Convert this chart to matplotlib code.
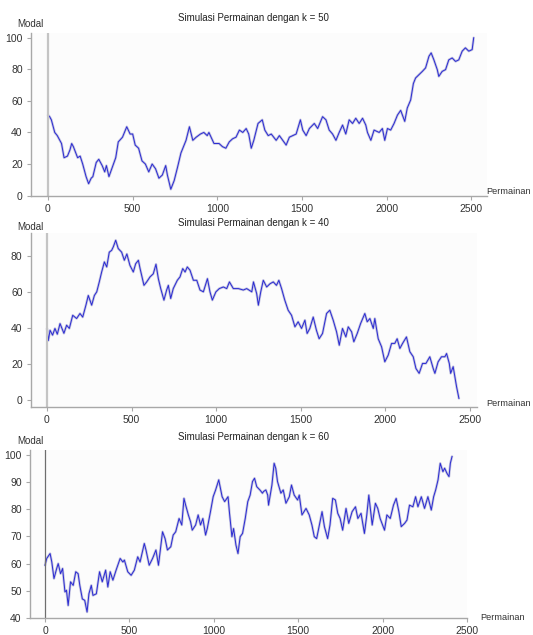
import matplotlib
matplotlib.use("Agg")
import matplotlib.pyplot as plt

plt.rcParams['font.family'] = ['Liberation Sans', 'DejaVu Sans']

# --- data (game number, capital) ---
x_k50 = [0, 10, 20, 40, 55, 80, 95, 115, 130, 140, 150, 175, 190, 205, 225, 240,
         255, 265, 285, 300, 320, 335, 345, 360, 380, 400, 415, 440, 465, 485, 500,
         515, 535, 555, 575, 595, 615, 635, 655, 675, 695, 705, 725, 745, 765, 785,
         815, 835, 855, 875, 900, 920, 940, 950, 980, 1010, 1030, 1050, 1070, 1090,
         1110, 1130, 1150, 1170, 1185, 1200, 1215, 1240, 1265, 1280, 1300, 1318,
         1347, 1366, 1386, 1406, 1425, 1445, 1465, 1490, 1504, 1524, 1543, 1572,
         1592, 1621, 1641, 1660, 1680, 1700, 1719, 1739, 1758, 1778, 1798, 1817,
         1837, 1857, 1876, 1886, 1906, 1925, 1955, 1974, 1988, 2004, 2023, 2043,
         2063, 2082, 2106, 2121, 2141, 2157, 2170, 2190, 2210, 2229, 2249, 2262,
         2278, 2298, 2307, 2327, 2347, 2366, 2386, 2406, 2425, 2445, 2464, 2484,
         2504, 2513]
y_k50 = [51, 50, 48, 40, 38, 33, 24, 25, 29, 33, 31, 24, 25, 20, 12, 7.5,
         11, 12, 21, 23, 19, 15, 19, 12, 18, 24, 34, 37, 43.6, 39, 39,
         32, 30, 22, 20, 15, 20, 17, 11, 13, 19, 13, 4, 9.5, 18, 27,
         35, 43.6, 35, 37, 39, 40, 38, 40, 33, 33, 31, 30, 34, 36,
         37, 41.5, 40, 42.5, 39, 30, 35, 45.7, 48, 41.5, 38, 39,
         35, 38, 35, 32, 37, 38, 39, 48, 41.5, 38, 42.5, 45.7,
         42.5, 50, 48, 41.5, 39, 35, 40, 44.7, 39, 48, 45.7, 49,
         45.7, 49, 44.7, 40, 35, 41.5, 40, 42.5, 35, 42.5, 41.5, 45.7,
         51, 54, 47, 55.5, 60.6, 71, 74.5, 76.6, 78.7, 80.9, 88.3, 90.4,
         86, 79.8, 75.5, 78.7, 79.8, 86, 87.2, 85, 86, 91.5, 93.6, 91.5,
         92.5, 100]

x_k40 = [0, 8, 18, 33, 47, 61, 77, 100, 116, 132, 152, 175, 195, 211, 230, 244,
         264, 280, 294, 309, 323, 339, 353, 368, 382, 392, 406, 421, 441, 457,
         472, 490, 510, 524, 540, 550, 573, 589, 609, 628, 644, 658, 672, 691,
         707, 717, 731, 746, 770, 786, 802, 816, 829, 845, 865, 885, 904, 924,
         948, 963, 977, 998, 1018, 1042, 1062, 1078, 1101, 1131, 1160, 1180,
         1210, 1220, 1239, 1249, 1263, 1278, 1298, 1318, 1337, 1356, 1370, 1386,
         1405, 1425, 1445, 1465, 1484, 1504, 1524, 1537, 1553, 1573, 1592, 1608,
         1628, 1652, 1671, 1691, 1711, 1727, 1746, 1766, 1780, 1800, 1813, 1833,
         1853, 1878, 1892, 1908, 1928, 1937, 1957, 1977, 1996, 2016, 2036, 2055,
         2069, 2085, 2101, 2124, 2144, 2164, 2180, 2199, 2219, 2239, 2262, 2282,
         2292, 2311, 2331, 2351, 2361, 2377, 2385, 2400, 2420, 2434]
y_k40 = [39.7, 33, 38.7, 36, 39.7, 36.5, 42.4, 37, 41.5, 39.7, 47, 45.2, 48, 46, 52.6, 58,
         52.6, 58, 60, 65.5, 71, 76.6, 73.8, 82, 83, 85, 88.6, 84, 82, 77.5,
         81, 74.7, 71, 75.6, 77.5, 72.9, 63.6, 65.5, 68.3, 70, 75.3, 67.3, 61.8, 55.4,
         61, 63.6, 56.3, 61.8, 66.4, 68.3, 72.9, 71, 73.8, 72, 66.4, 66.4, 61, 60,
         67.3, 60, 55.4, 60, 61.8, 62.7, 61.8, 65.5, 61.8, 61.8, 61, 61.8,
         60, 65.5, 59, 52.6, 60, 66.4, 62.7, 64.5, 65.5, 63.6, 66.4, 61.8,
         55.4, 49.8, 47, 40.6, 43.4, 39.7, 44.3, 36.9, 39.7, 46, 38.7, 34,
         36.9, 48, 49.8, 44.3, 37.8, 30.4, 39.7, 35, 40.6, 37.8, 32.3, 36.9,
         42.4, 48, 43.4, 45.2, 39.7, 45.2, 34, 29.5, 21.2, 24.9, 31.4, 31.4,
         34, 28.6, 31.4, 35, 26.8, 24, 17.5, 14.8, 20.3, 20.3, 24, 17.5,
         14.8, 21.2, 24, 24, 25.8, 20.3, 14.8, 18.5, 7.4, 0.9]

x_k60 = [0, 10, 30, 40, 53, 69, 78, 92, 104, 118, 127, 137, 151, 167, 182, 196,
         206, 221, 235, 249, 260, 274, 284, 304, 323, 339, 359, 372, 386, 402,
         421, 431, 445, 461, 470, 490, 510, 529, 549, 563, 588, 598, 617, 637,
         657, 672, 696, 711, 725, 745, 759, 774, 794, 810, 823, 833, 849, 862,
         872, 892, 907, 921, 935, 951, 961, 980, 996, 1010, 1029, 1049, 1064,
         1084, 1092, 1107, 1117, 1131, 1143, 1156, 1170, 1186, 1201, 1215, 1229,
         1241, 1254, 1274, 1294, 1319, 1288, 1308, 1324, 1344, 1357, 1367, 1377,
         1397, 1411, 1427, 1447, 1460, 1476, 1496, 1506, 1522, 1546, 1565, 1581,
         1595, 1609, 1625, 1641, 1655, 1674, 1688, 1704, 1720, 1734, 1748, 1763,
         1783, 1799, 1819, 1839, 1853, 1872, 1892, 1906, 1918, 1938, 1957, 1971,
         1985, 2011, 2025, 2045, 2064, 2080, 2096, 2110, 2130, 2144, 2159, 2179,
         2195, 2209, 2229, 2248, 2268, 2288, 2302, 2314, 2328, 2341, 2357, 2367,
         2381, 2393, 2401, 2411]
y_k60 = [59.4, 61.9, 63.7, 60.6, 54.5, 58.2, 60, 56.3, 58.2, 49.6, 50.2, 44.6, 53.3, 52, 57, 56.3,
         52, 47, 46.5, 42.2, 48.9, 52, 48.3, 48.9, 57, 53.3, 57.6, 51.4, 57, 53.9,
         57.6, 59.4, 61.9, 60.6, 61.3, 57, 55.7, 57.6, 62.5, 60.6, 67.4, 65, 59.4, 61.9,
         65, 59.4, 71.7, 69.2, 65, 66.2, 70.5, 71.7, 76.6, 74.2, 84, 81.5, 77.9, 75.4,
         72.3, 74.2, 77.9, 74.2, 76.6, 70.5, 72.9, 79.1, 84.6, 87, 90.8, 84.6, 82.8,
         84.6, 79.1, 69.9, 72.9, 66.8, 63.7, 69.9, 71.1, 76.6, 82.8, 85.2, 90.2,
         91.4, 88.3, 87, 86.5, 85.2, 85.9, 87.1, 81.5, 88.9, 96.9, 95, 90.2,
         85.9, 87.1, 82.2, 84.6, 88.9, 85.2, 83.4, 85.2, 77.9, 80.3, 77.9, 74.2,
         69.9, 69.2, 74.2, 79.1, 73.6, 69.2, 74.2, 84, 83.4, 78.5, 76.6, 72.3,
         80.3, 74.8, 79.1, 80.9, 76.6, 78.5, 71.1, 77.9, 85.2, 74.2, 82.2, 80.3,
         76.6, 72.3, 77.9, 76.6, 81.5, 84, 79.1, 73.6, 74.8, 76, 81.5, 80.9,
         84.6, 80.9, 84.6, 80.3, 84.6, 79.7, 84.6, 87.1, 90.8, 96.9, 93.8, 95.1,
         93.2, 92, 96.9, 99.4]

# sort x so the small overlap I read twice near 1290-1320 stays in order
pairs = sorted(zip(x_k60, y_k60), key=lambda p: p[0])
x_k60 = [p[0] for p in pairs]
y_k60 = [p[1] for p in pairs]

W, H = 533, 635

# layout in pixels of the reference; the first two "Permainan" labels are
# cut at the right edge there, so here they are right-aligned to stay whole
panels = [
    dict(x=x_k50, y=y_k50, title="Simulasi Permainan dengan k = 50",
         rect=[0.0582, 0.692, 0.855, 0.256], xlim=(-100, 2590), ylim=(0, 103),
         yticks=[0, 20, 40, 60, 80, 100], zero_color="#c4c4c4", zero_lw=1.6,
         title_y=18, modal_y=24, perm_x=531, perm_ha="right", perm_y=192),
    dict(x=x_k40, y=y_k40, title="Simulasi Permainan dengan k = 40",
         rect=[0.058, 0.3595, 0.837, 0.2735], xlim=(-95, 2541), ylim=(-3.7, 92.6),
         yticks=[0, 20, 40, 60, 80], zero_color="#c4c4c4", zero_lw=1.6,
         title_y=223, modal_y=227, perm_x=531, perm_ha="right", perm_y=404),
    dict(x=x_k60, y=y_k60, title="Simulasi Permainan dengan k = 60",
         rect=[0.0563, 0.0268, 0.82, 0.2646], xlim=(-89, 2500), ylim=(40, 101.8),
         yticks=[40, 50, 60, 70, 80, 90, 100], zero_color="#6e6e6e", zero_lw=0.9,
         title_y=437, modal_y=441, perm_x=480, perm_ha="left", perm_y=618),
]

fig = plt.figure(figsize=(W / 100, H / 100), dpi=100)
fig.patch.set_facecolor("white")

for p in panels:
    ax = fig.add_axes(p["rect"])
    ax.set_facecolor("#fcfcfc")
    ax.plot(p["x"], p["y"], color="#c3c3e0", lw=1.8, solid_capstyle="round")
    ax.plot(p["x"], p["y"], color="#2a2ad2", lw=0.7)
    ax.axvline(0, color=p["zero_color"], lw=p["zero_lw"])
    ax.set_xlim(*p["xlim"])
    ax.set_ylim(*p["ylim"])
    ax.set_xticks([0, 500, 1000, 1500, 2000, 2500])
    ax.set_yticks(p["yticks"])
    for s in ["top", "right"]:
        ax.spines[s].set_visible(False)
    for s in ["left", "bottom"]:
        ax.spines[s].set_color("#a8a8a8")
        ax.spines[s].set_linewidth(1.0)
    ax.tick_params(axis="both", colors="#a8a8a8", labelcolor="#333333",
                   labelsize=7.5, length=3, width=0.8, pad=3)
    fig.text(253 / W, 1 - p["title_y"] / H, p["title"], ha="center", va="center",
             fontsize=7, color="#222222")
    fig.text(30 / W, 1 - p["modal_y"] / H, "Modal", ha="center", va="center",
             fontsize=7, color="#333333")
    fig.text(p["perm_x"] / W, 1 - p["perm_y"] / H, "Permainan", ha=p["perm_ha"],
             va="center", fontsize=6.6, color="#333333")

fig.savefig("out.png", dpi=100)
